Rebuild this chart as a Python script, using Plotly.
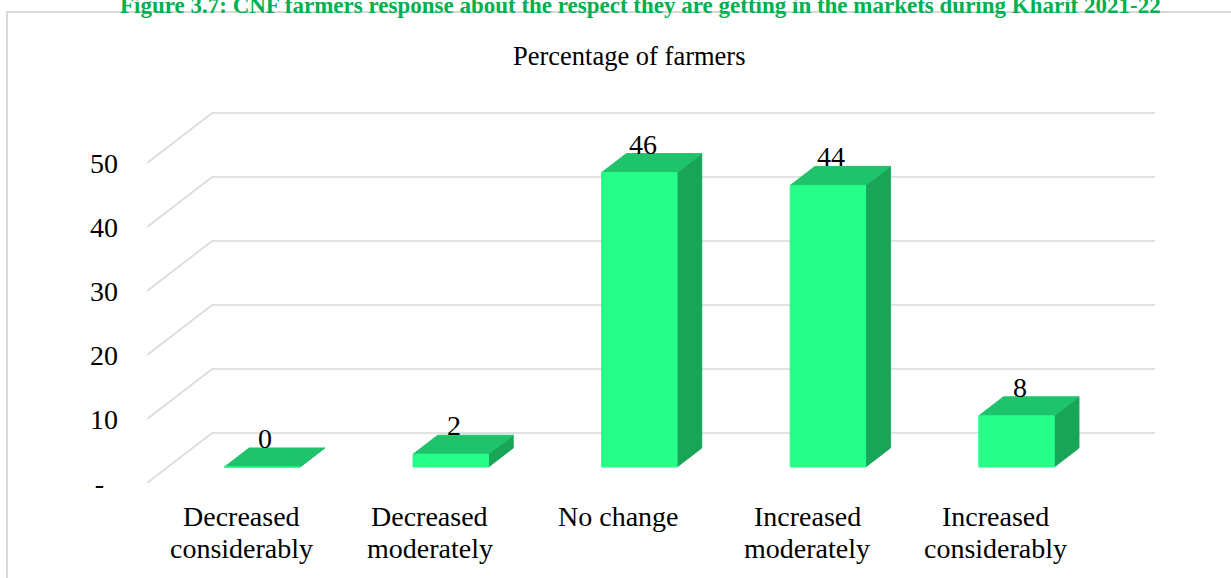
import plotly.graph_objects as go

# ---- data -------------------------------------------------------------
categories = [
    "Decreased\nconsiderably",
    "Decreased\nmoderately",
    "No change",
    "Increased\nmoderately",
    "Increased\nconsiderably",
]
values = [0, 2, 46, 44, 8]
tick_values = [0, 10, 20, 30, 40, 50]
tick_labels = ["-\u00a0\u00a0", "10", "20", "30", "40", "50"]

caption = ("Figure 3.7: CNF farmers response about the respect they are "
           "getting in the markets during Kharif 2021-22")
chart_title = "Percentage of farmers"

# ---- styling / geometry ----------------------------------------------
W, H = 1231, 578
M_L, M_R, M_T, M_B = 147, 75, 99, 95
X_RANGE = [-0.5, 4.85]
Y_RANGE = [0, 60]

# oblique projection of the floor depth (front -> back wall)
DEPTH_X = 0.345          # category units shifted at full depth
DEPTH_Y = 7.81           # value units shifted at full depth
BAR_W = 0.40
BAR_D0, BAR_D1 = 0.32, 0.70
LABEL_D = 0.37

FRONT = "#26FF89"
TOP = "#1FC36B"
SIDE = "#18A557"
GRID = "#D9D9D9"
FONT = "Liberation Serif"
FS = 28

plot_h = H - M_T - M_B


def paper_y(px):
    """Pixel row (from top of page) -> paper y fraction."""
    return (H - M_B - px) / plot_h


def paper_x(px):
    return (px - M_L) / (W - M_L - M_R)


def proj(c, v, d):
    return c + d * DEPTH_X, v + d * DEPTH_Y


fig = go.Figure()

# back wall gridlines with their diagonal floor/side-wall segments
n = len(categories)
gx, gy = [], []
for t in tick_values:
    p0 = proj(-0.5, t, 0)
    p1 = proj(-0.5, t, 1)
    p2 = proj(n - 0.5, t, 1)
    gx += [p0[0], p1[0], p2[0], None]
    gy += [p0[1], p1[1], p2[1], None]
fig.add_trace(go.Scatter(x=gx, y=gy, mode="lines",
                         line=dict(color=GRID, width=1.6),
                         hoverinfo="skip"))


def face(pts, color):
    xs = [p[0] for p in pts] + [pts[0][0]]
    ys = [p[1] for p in pts] + [pts[0][1]]
    fig.add_trace(go.Scatter(x=xs, y=ys, mode="lines", fill="toself",
                             fillcolor=color, line=dict(color=color, width=1),
                             hoverinfo="skip"))


for i, v in enumerate(values):
    xl, xr = i - BAR_W / 2, i + BAR_W / 2
    # right side
    face([proj(xr, 0, BAR_D0), proj(xr, 0, BAR_D1),
          proj(xr, v, BAR_D1), proj(xr, v, BAR_D0)], SIDE)
    # top
    face([proj(xl, v, BAR_D0), proj(xr, v, BAR_D0),
          proj(xr, v, BAR_D1), proj(xl, v, BAR_D1)], TOP)
    # front
    face([proj(xl, 0, BAR_D0), proj(xr, 0, BAR_D0),
          proj(xr, v, BAR_D0), proj(xl, v, BAR_D0)], FRONT)

annotations = []

# value labels sitting on the back edge of each bar top
for i, v in enumerate(values):
    lx, ly = proj(i, v, LABEL_D)
    ly_top = proj(i, v, BAR_D1)[1]
    annotations.append(dict(x=lx, y=ly_top, xref="x", yref="y",
                            text=str(v), showarrow=False,
                            xanchor="center", yanchor="bottom", yshift=-8,
                            font=dict(family=FONT, size=FS, color="black")))

# category labels, one annotation per line
for i, cat in enumerate(categories):
    for k, line in enumerate(cat.split("\n")):
        base_px = 527 + 32 * k
        annotations.append(dict(x=i, y=paper_y(base_px + 7), xref="x",
                                yref="paper", text=line, showarrow=False,
                                xanchor="center", yanchor="bottom",
                                font=dict(family=FONT, size=FS,
                                          color="black")))

# chart title
annotations.append(dict(x=paper_x(629), y=paper_y(66 + 7), xref="paper",
                        yref="paper", text=chart_title, showarrow=False,
                        xanchor="center", yanchor="bottom",
                        font=dict(family=FONT, size=26.5, color="black")))

# figure caption above the chart frame
annotations.append(dict(x=paper_x(640), y=paper_y(20), xref="paper",
                        yref="paper", text="<b>" + caption + "</b>",
                        showarrow=False, xanchor="center", yanchor="bottom",
                        font=dict(family=FONT, size=23, color="#00B050")))

# chart frame
shapes = [dict(type="rect", xref="paper", yref="paper",
               x0=paper_x(7), x1=paper_x(W + 30),
               y0=paper_y(H + 30), y1=paper_y(12),
               line=dict(color=GRID, width=2), fillcolor="rgba(0,0,0,0)",
               layer="below")]

fig.update_layout(
    width=W, height=H, autosize=False,
    margin=dict(l=M_L, r=M_R, t=M_T, b=M_B, pad=0),
    paper_bgcolor="white", plot_bgcolor="white",
    showlegend=False, hovermode=False,
    annotations=annotations, shapes=shapes,
    xaxis=dict(range=X_RANGE, showgrid=False, zeroline=False,
               showline=False, showticklabels=False, fixedrange=True),
    yaxis=dict(range=Y_RANGE, showgrid=False, zeroline=False,
               showline=False, tickmode="array", tickvals=tick_values,
               ticktext=tick_labels, ticks="", ticklabelstandoff=28,
               tickfont=dict(family=FONT, size=FS, color="black"),
               fixedrange=True),
)

fig.write_html("out.html")
